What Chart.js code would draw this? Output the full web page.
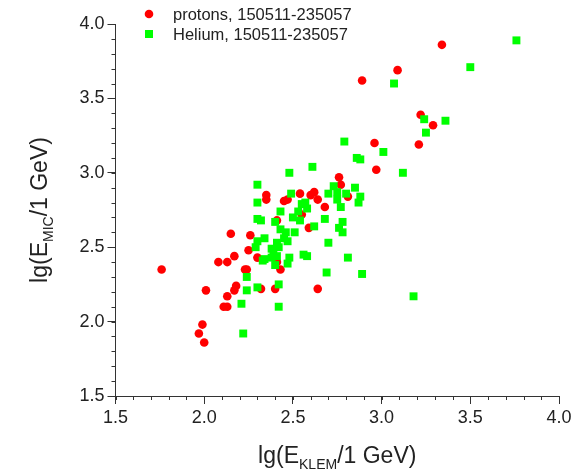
<!DOCTYPE html>
<html>
<head>
<meta charset="utf-8">
<script src="https://cdn.jsdelivr.net/npm/chart.js@4.4.1/dist/chart.umd.min.js"></script>
<style>
  html, body { margin: 0; padding: 0; background: #fff; }
  #wrap { position: relative; width: 581px; height: 473px; }
</style>
</head>
<body>
<div id="wrap"><canvas id="chart" width="581" height="473"></canvas></div>
<script>
// series names
const protonsLabel = 'protons, 150511-235057';
const heliumLabel = 'Helium, 150511-235057';

// lg(E_KLEM) / lg(E_MIC) values
const protonsX = [1.76, 1.99, 1.97, 2.00, 2.01, 2.08, 2.13, 2.15, 2.17, 2.18, 2.17, 2.13, 2.11, 2.13, 2.23, 2.24, 2.25, 2.26, 2.32, 2.30,
  2.35, 2.35, 2.40, 2.41, 2.41, 2.43, 2.45, 2.47, 2.54, 2.55, 2.59, 2.60, 2.62, 2.64, 2.64, 2.68, 2.76, 2.77, 2.81, 2.89,
  2.96, 2.97, 3.09, 3.21, 3.22, 3.29, 3.34];
const protonsY = [2.35, 1.98, 1.92, 1.86, 2.21, 2.40, 2.40, 2.59, 2.44, 2.24, 2.21, 2.17, 2.10, 2.10, 2.35, 2.35, 2.48, 2.58, 2.22, 2.43,
  2.85, 2.82, 2.22, 2.40, 2.68, 2.35, 2.81, 2.82, 2.86, 2.72, 2.63, 2.85, 2.87, 2.82, 2.22, 2.77, 2.97, 2.92, 2.84, 3.62,
  3.20, 3.02, 3.69, 3.19, 3.39, 3.32, 3.86];

const heliumX = [3.76, 3.50, 3.07, 3.24, 3.36, 3.25, 2.79, 3.01, 2.86, 2.88, 3.12, 2.61, 2.48, 2.30, 2.73, 2.75, 2.70, 2.80, 2.85, 2.88,
  2.87, 2.75, 2.77, 2.49, 2.57, 2.58, 2.53, 2.54, 2.68, 2.78, 2.76, 2.78, 2.30, 2.43, 2.30, 2.32, 2.40, 2.62, 2.43, 2.46,
  2.45, 2.47, 2.51, 2.34, 2.30, 2.29, 2.38, 2.39, 2.42, 2.41, 2.56, 2.58, 2.48, 2.47, 2.40, 2.33, 2.34, 2.38, 2.41, 2.70,
  2.81, 2.69, 2.89, 2.24, 2.24, 2.30, 2.42, 2.21, 2.42, 2.22, 3.18, 2.55, 2.50];
const heliumY = [3.89, 3.71, 3.60, 3.36, 3.35, 3.27, 3.21, 3.14, 3.10, 3.09, 3.00, 3.04, 3.00, 2.92, 2.91, 2.87, 2.86, 2.86, 2.90, 2.84,
  2.80, 2.82, 2.77, 2.86, 2.80, 2.76, 2.74, 2.68, 2.69, 2.67, 2.63, 2.60, 2.80, 2.74, 2.69, 2.68, 2.67, 2.64, 2.62, 2.60,
  2.56, 2.54, 2.60, 2.56, 2.54, 2.50, 2.49, 2.47, 2.50, 2.53, 2.45, 2.44, 2.43, 2.39, 2.38, 2.41, 2.42, 2.43, 2.44, 2.53,
  2.43, 2.33, 2.32, 2.30, 2.21, 2.23, 2.25, 2.12, 2.10, 1.92, 2.17, 2.79, 2.70];

// axis ticks
const xTicks = [1.5, 2.0, 2.5, 3.0, 3.5, 4.0];
const yTicks = [1.5, 2.0, 2.5, 3.0, 3.5, 4.0];
const minorStep = 0.1;

const FONT = '"Liberation Sans", Arial, sans-serif';
const INK = '#222';

const toPoints = (xs, ys) => xs.map((x, i) => ({ x: x, y: ys[i] }));

// small outward minor ticks between the labelled ones
const minorTicks = {
  id: 'minorTicks',
  afterDraw(chart) {
    const ctx = chart.ctx;
    const sx = chart.scales.x, sy = chart.scales.y;
    const area = chart.chartArea;
    ctx.save();
    ctx.strokeStyle = '#333';
    ctx.lineWidth = 1;
    ctx.beginPath();
    for (let v = sx.min; v <= sx.max + 1e-9; v += minorStep) {
      const px = Math.round(sx.getPixelForValue(v)) + 0.5;
      ctx.moveTo(px, area.bottom);
      ctx.lineTo(px, area.bottom + 4);
    }
    for (let v = sy.min; v <= sy.max + 1e-9; v += minorStep) {
      const py = Math.round(sy.getPixelForValue(v)) + 0.5;
      ctx.moveTo(area.left, py);
      ctx.lineTo(area.left - 4, py);
    }
    ctx.stroke();
    ctx.restore();
  }
};

// axis titles with subscripts
function drawSubTitle(ctx, pre, sub, post, x, y) {
  const big = '23px ' + FONT, small = '14px ' + FONT;
  ctx.font = big;
  const w1 = ctx.measureText(pre).width;
  const w3 = ctx.measureText(post).width;
  ctx.font = small;
  const w2 = ctx.measureText(sub).width;
  let cx = x - (w1 + w2 + w3) / 2;
  ctx.textBaseline = 'alphabetic';
  ctx.textAlign = 'left';
  ctx.font = big;
  ctx.fillText(pre, cx, y);
  cx += w1;
  ctx.font = small;
  ctx.fillText(sub, cx, y + 6);
  cx += w2;
  ctx.font = big;
  ctx.fillText(post, cx, y);
}

const axisTitles = {
  id: 'axisTitles',
  afterDraw(chart) {
    const ctx = chart.ctx;
    const area = chart.chartArea;
    ctx.save();
    ctx.fillStyle = INK;
    drawSubTitle(ctx, 'lg(E', 'KLEM', '/1 GeV)', (area.left + area.right) / 2, 463);
    ctx.translate(47, (area.top + area.bottom) / 2);
    ctx.rotate(-Math.PI / 2);
    drawSubTitle(ctx, 'lg(E', 'MIC', '/1 GeV)', 0, 0);
    ctx.restore();
  }
};

// legend sits inside the plot, top left
const innerLegend = {
  id: 'innerLegend',
  afterDraw(chart) {
    const ctx = chart.ctx;
    ctx.save();
    chart.data.datasets.forEach((ds, i) => {
      const y = 14 + i * 20;
      ctx.fillStyle = ds.backgroundColor;
      if (ds.pointStyle === 'rect') {
        ctx.fillRect(145, y - 4, 8, 8);
      } else {
        ctx.beginPath();
        ctx.arc(149, y, 4.3, 0, Math.PI * 2);
        ctx.fill();
      }
      ctx.fillStyle = INK;
      ctx.font = '16.5px ' + FONT;
      ctx.textBaseline = 'middle';
      ctx.textAlign = 'left';
      ctx.fillText(ds.label, 173, y + 1);
    });
    ctx.restore();
  }
};

const axisCommon = {
  type: 'linear',
  min: 1.5,
  max: 4.0,
  grid: { drawOnChartArea: false, drawTicks: true, tickLength: 8, color: '#333' },
  border: { display: true, color: '#333', width: 1 },
  ticks: {
    color: INK,
    font: { family: FONT, size: 18 },
    padding: 3,
    callback: v => v.toFixed(1)
  }
};

new Chart(document.getElementById('chart'), {
  type: 'scatter',
  data: {
    datasets: [
      {
        label: protonsLabel,
        data: toPoints(protonsX, protonsY),
        backgroundColor: '#ff0000',
        borderWidth: 0,
        pointStyle: 'circle',
        pointRadius: 4.3,
        order: 1
      },
      {
        label: heliumLabel,
        data: toPoints(heliumX, heliumY),
        backgroundColor: '#00ff00',
        borderWidth: 0,
        pointStyle: 'rect',
        pointRadius: 5.6,
        order: 0
      }
    ]
  },
  options: {
    responsive: false,
    animation: false,
    clip: false,
    layout: { padding: { top: 24, right: 22, left: 0, bottom: 0 } },
    plugins: { legend: { display: false }, tooltip: { enabled: false } },
    scales: {
      x: {
        ...axisCommon,
        afterBuildTicks: s => { s.ticks = xTicks.map(v => ({ value: v })); },
        afterFit: s => { s.height = 77; }
      },
      y: {
        ...axisCommon,
        afterBuildTicks: s => { s.ticks = yTicks.map(v => ({ value: v })); },
        afterFit: s => { s.width = 115.5; }
      }
    }
  },
  plugins: [minorTicks, axisTitles, innerLegend]
});
</script>
</body>
</html>
